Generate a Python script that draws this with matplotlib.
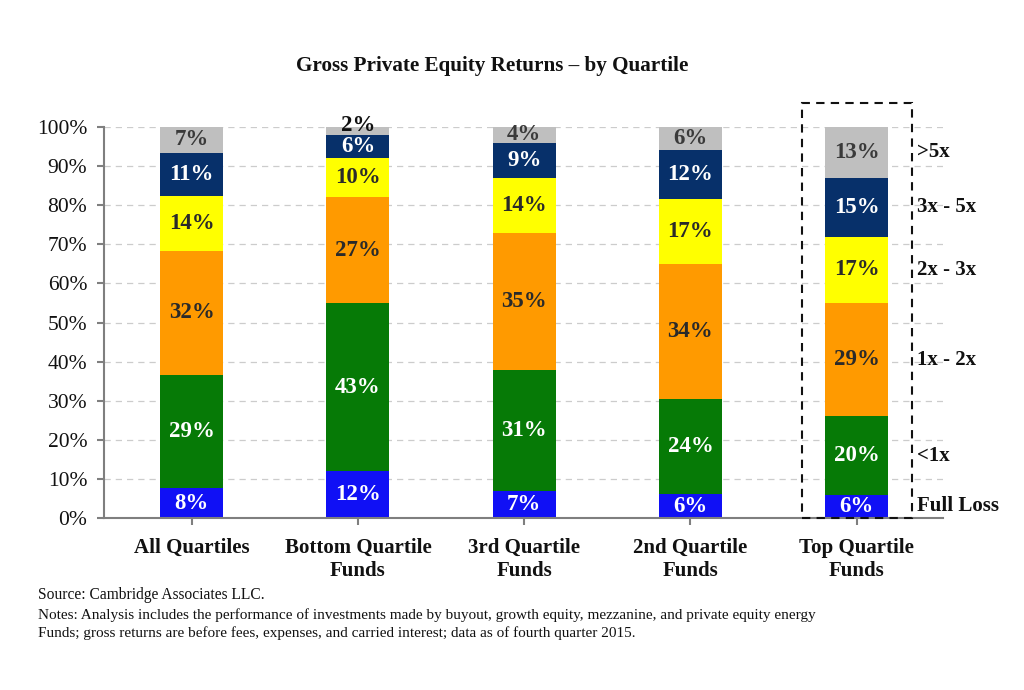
import matplotlib.pyplot as plt
from matplotlib.patches import Rectangle

plt.rcParams["font.family"] = ["Liberation Serif", "DejaVu Serif"]

categories = ["All Quartiles", "Bottom Quartile\nFunds", "3rd Quartile\nFunds",
              "2nd Quartile\nFunds", "Top Quartile\nFunds"]
series = ["Full Loss", "<1x", "1x - 2x", "2x - 3x", "3x - 5x", ">5x"]

# share of investments (%) per multiple bucket, bottom to top
full_loss = [7.7, 12, 7, 6.1, 6]
below_1x = [28.9, 43, 31, 24.4, 20]
x1_2 = [31.7, 27, 35, 34.4, 29]
x2_3 = [14.1, 10, 14, 16.8, 17]
x3_5 = [11.0, 6, 9, 12.3, 15]
above_5x = [6.6, 2, 4, 6.0, 13]

values = [full_loss, below_1x, x1_2, x2_3, x3_5, above_5x]
colors = ["#1010f5", "#067a06", "#ff9a00", "#ffff00", "#07306a", "#bfbfbf"]
text_colors = ["white", "white", "#2a2a2a", "#2a2a2a", "white", "#3a3a3a"]

fig = plt.figure(figsize=(10.24, 6.9), dpi=100)
ax = fig.add_axes([0.1016, 0.249, 0.8194, 0.567])

x = list(range(len(categories)))
bottoms = [0.0] * len(categories)
for vals, col, tcol in zip(values, colors, text_colors):
    ax.bar(x, vals, bottom=bottoms, width=0.38, color=col, edgecolor="none", zorder=2)
    for xi, v, b in zip(x, vals, bottoms):
        # very thin slices get their label lifted onto the bar top
        yl = b + v / 2 if v >= 3 else b + v + 0.5
        tc = tcol if v >= 3 else "#111111"
        ax.text(xi, yl, f"{round(v)}%", ha="center", va="center",
                fontsize=16.5, weight="bold", color=tc, zorder=3, clip_on=False)
    bottoms = [b + v for b, v in zip(bottoms, vals)]

# series labels beside the top quartile bar
last = len(categories) - 1
cum = 0.0
for name, vals in zip(series, values):
    v = vals[last]
    ax.text(last + 0.36, cum + v / 2, name, ha="left", va="center",
            fontsize=15, weight="bold", color="#111111", clip_on=False)
    cum += v

# dashed highlight box
ax.add_patch(Rectangle((last - 0.33, 0), 0.665, 106, fill=False, edgecolor="#111111",
                       lw=1.5, linestyle=(0, (4, 3)), clip_on=False, zorder=4))

ax.set_xlim(-0.527, 4.52)
ax.set_ylim(0, 100)
ax.set_yticks(range(0, 101, 10))
ax.set_yticklabels([f"{t}%" for t in range(0, 101, 10)], fontsize=15.5)
ax.set_xticks(x)
ax.set_xticklabels(categories, fontsize=15, weight="bold", linespacing=1.25)
ax.yaxis.grid(True, color="#cccccc", linestyle=(0, (5, 4)), lw=0.9, zorder=0)
ax.set_axisbelow(True)
for s in ["top", "right"]:
    ax.spines[s].set_visible(False)
for s in ["left", "bottom"]:
    ax.spines[s].set_color("#7f7f7f")
    ax.spines[s].set_linewidth(1.5)
ax.tick_params(axis="both", colors="#7f7f7f", length=5, width=1.5, labelcolor="#111111")
ax.tick_params(axis="x", pad=9)
ax.tick_params(axis="y", pad=7)

fig.text(0.481, 0.905, "Gross Private Equity Returns \u2013 by Quartile", ha="center",
         va="center", fontsize=15.2, weight="bold", color="#111111")
fig.text(0.037, 0.137, "Source: Cambridge Associates LLC.", fontsize=11.2, va="center", color="#111111")
fig.text(0.037, 0.109, "Notes: Analysis includes the performance of investments made by buyout, "
         "growth equity, mezzanine, and private equity energy", fontsize=11, va="center", color="#111111")
fig.text(0.037, 0.083, "Funds; gross returns are before fees, expenses, and carried interest; "
         "data as of fourth quarter 2015.", fontsize=11, va="center", color="#111111")

fig.savefig("out.png", dpi=100)
